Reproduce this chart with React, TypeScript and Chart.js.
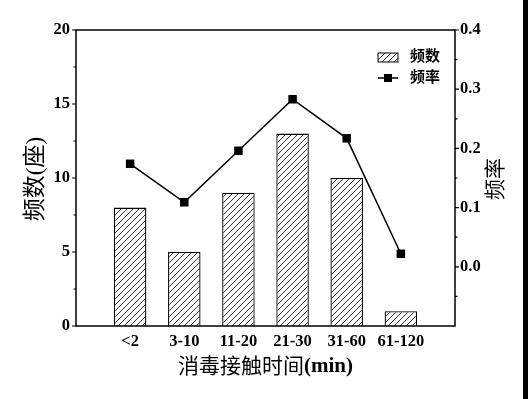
import React, { useEffect, useRef } from "react";
import { Chart, registerables } from "chart.js";

Chart.register(...registerables);

const categories = ["<2", "3-10", "11-20", "21-30", "31-60", "61-120"];
const counts = [8, 5, 9, 13, 10, 1];
const rates = [0.174, 0.109, 0.196, 0.283, 0.217, 0.022];
const leftTicks = [0, 5, 10, 15, 20];
const rightTicks = [0.0, 0.1, 0.2, 0.3, 0.4];
const xTitleCn = "消毒接触时间";
const xTitleEn = "(min)";
const yTitle = "频数(座)";
const y1Title = "频率";
const legendBar = "频数";
const legendLine = "频率";

const SERIF = '"Liberation Serif", "Times New Roman", "Noto Sans CJK SC", serif';
const CJK = '"Liberation Serif", "Noto Sans CJK SC", sans-serif';

function makeHatch(): CanvasPattern | string {
  const c = document.createElement("canvas");
  c.width = 6;
  c.height = 6;
  const g = c.getContext("2d");
  if (!g) return "#fff";
  g.fillStyle = "#fff";
  g.fillRect(0, 0, 6, 6);
  g.strokeStyle = "#000";
  g.lineWidth = 0.8;
  g.beginPath();
  g.moveTo(0, 6);
  g.lineTo(6, 0);
  g.moveTo(-3, 3);
  g.lineTo(3, -3);
  g.moveTo(3, 9);
  g.lineTo(9, 3);
  g.stroke();
  const p = g.createPattern(c, "repeat");
  return p || "#fff";
}

export default function App() {
  const ref = useRef<HTMLCanvasElement>(null);

  useEffect(() => {
    if (!ref.current) return;
    const hatch = makeHatch();
    const labels = ["", ...categories, ""];
    const barData = [null, ...counts, null];
    const lineData = [null, ...rates, null];

    const decor = {
      id: "decor",
      afterDraw(chart: any) {
        const ctx = chart.ctx;
        const a = chart.chartArea;
        const y = chart.scales.y;
        const y1 = chart.scales.y1;
        ctx.save();
        ctx.strokeStyle = "#000";
        ctx.lineWidth = 1.5;
        ctx.strokeRect(a.left, a.top, a.right - a.left, a.bottom - a.top);
        ctx.lineWidth = 1.2;
        ctx.beginPath();
        for (let v = 0; v <= 20.001; v += 2.5) {
          const p = y.getPixelForValue(v);
          const len = Math.abs(v % 5) < 1e-6 ? 4 : 2.5;
          ctx.moveTo(a.left - len, p);
          ctx.lineTo(a.left, p);
        }
        for (let k = -1; k <= 8; k++) {
          const v = k * 0.05;
          const p = y1.getPixelForValue(v);
          const len = k % 2 === 0 ? 4 : 2.5;
          ctx.moveTo(a.right, p);
          ctx.lineTo(a.right + len, p);
        }
        ctx.stroke();

        // legend
        const lx = 378;
        ctx.fillStyle = hatch as any;
        ctx.fillRect(lx, 53, 20, 9);
        ctx.lineWidth = 1;
        ctx.strokeRect(lx, 53, 20, 9);
        ctx.beginPath();
        ctx.lineWidth = 1.5;
        ctx.moveTo(lx, 78);
        ctx.lineTo(lx + 20, 78);
        ctx.stroke();
        ctx.fillStyle = "#000";
        ctx.fillRect(lx + 6, 74, 8, 8);
        ctx.font = `bold 15px ${CJK}`;
        ctx.textBaseline = "middle";
        ctx.textAlign = "left";
        ctx.fillText(legendBar, 410, 57);
        ctx.fillText(legendLine, 410, 78);

        // axis titles
        ctx.textAlign = "center";
        ctx.font = `23px ${CJK}`;
        ctx.save();
        ctx.translate(36, 179);
        ctx.rotate(-Math.PI / 2);
        ctx.fillText(yTitle, 0, 0);
        ctx.restore();
        ctx.font = `21px ${CJK}`;
        ctx.save();
        ctx.translate(496, 179);
        ctx.rotate(-Math.PI / 2);
        ctx.fillText(y1Title, 0, 0);
        ctx.restore();

        const f1 = `21px ${CJK}`;
        const f2 = `bold 21px ${SERIF}`;
        ctx.font = f1;
        const w1 = ctx.measureText(xTitleCn).width;
        ctx.font = f2;
        const w2 = ctx.measureText(xTitleEn).width;
        const sx = 265.5 - (w1 + w2) / 2;
        ctx.textAlign = "left";
        ctx.font = f1;
        ctx.fillText(xTitleCn, sx, 367);
        ctx.font = f2;
        ctx.fillText(xTitleEn, sx + w1, 367);
        ctx.restore();
      },
    };

    const tickFont = { family: SERIF, size: 16.5, weight: "bold" as const };

    const chart = new Chart(ref.current, {
      type: "bar",
      data: {
        labels,
        datasets: [
          {
            type: "line",
            label: legendLine,
            data: lineData as any,
            yAxisID: "y1",
            borderColor: "#000",
            borderWidth: 1.5,
            backgroundColor: "#000",
            pointStyle: "rect",
            pointRadius: 6,
            pointBackgroundColor: "#000",
            pointBorderWidth: 0,
            order: 0,
          } as any,
          {
            type: "bar",
            label: legendBar,
            data: barData as any,
            yAxisID: "y",
            backgroundColor: hatch as any,
            borderColor: "#000",
            borderWidth: 1.3,
            categoryPercentage: 1,
            barPercentage: 0.6,
            order: 1,
          } as any,
        ],
      },
      options: {
        animation: false,
        responsive: false,
        maintainAspectRatio: false,
        layout: { padding: { top: 30, left: 0, right: 0, bottom: 0 } },
        plugins: { legend: { display: false }, tooltip: { enabled: false } },
        scales: {
          x: {
            type: "category",
            offset: false,
            grid: { display: false, drawTicks: false },
            border: { display: false },
            ticks: {
              autoSkip: false,
              maxRotation: 0,
              padding: 6,
              color: "#000",
              font: tickFont,
            },
            afterFit(s: any) {
              s.height = 73;
            },
          },
          y: {
            position: "left",
            min: 0,
            max: 20,
            afterBuildTicks(s: any) {
              s.ticks = leftTicks.map((v) => ({ value: v }));
            },
            grid: { display: false, drawTicks: false },
            border: { display: false },
            ticks: {
              padding: 6,
              color: "#000",
              font: tickFont,
            },
            afterFit(s: any) {
              s.width = 76;
            },
          },
          y1: {
            position: "right",
            min: -0.1,
            max: 0.4,
            afterBuildTicks(s: any) {
              s.ticks = rightTicks.map((v) => ({ value: v }));
            },
            grid: { display: false, drawTicks: false },
            border: { display: false },
            ticks: {
              padding: 5,
              color: "#000",
              font: tickFont,
              callback: (v: any) => Number(v).toFixed(1),
            },
            afterFit(s: any) {
              s.width = 73;
            },
          },
        },
      },
      plugins: [decor],
    });
    return () => chart.destroy();
  }, []);

  return (
    <div style={{ position: "fixed", left: 0, top: 0, width: 528, height: 399, background: "#fff" }}>
      <canvas ref={ref} width={528} height={399} style={{ display: "block" }} />
      <div style={{ position: "absolute", left: 523, top: 0, width: 5, height: 399, background: "#000" }} />
    </div>
  );
}
